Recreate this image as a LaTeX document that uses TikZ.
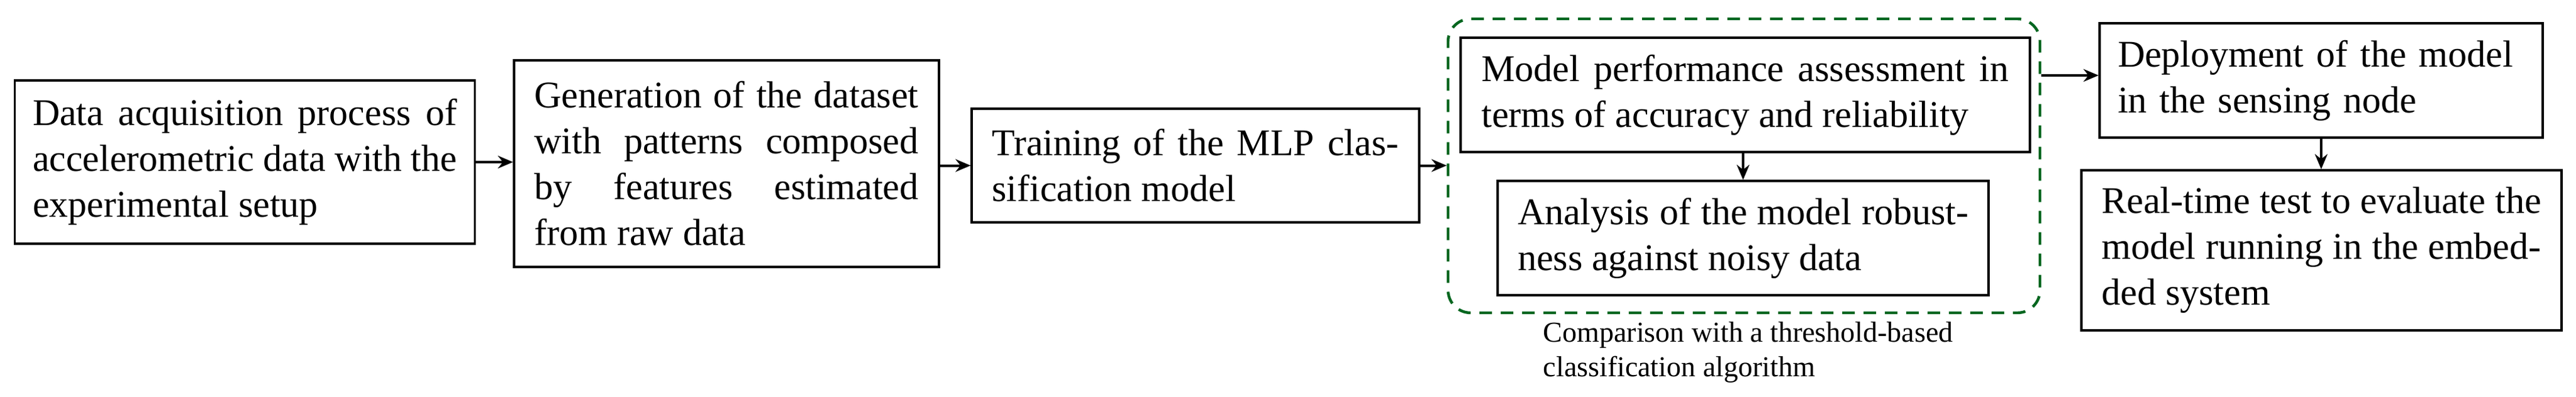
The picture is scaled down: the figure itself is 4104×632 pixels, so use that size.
\documentclass[tikz,border=0pt]{standalone}
\usepackage{fontspec}
\setmainfont{Liberation Serif}
\usetikzlibrary{arrows.meta}
\begin{document}
\begin{tikzpicture}[x=0.25pt,y=-0.25pt,
  box/.style={draw,line width=0.8pt,inner sep=0pt,font=\fontsize{15}{18.25}\selectfont},
  arr/.style={line width=1pt,-{Stealth[length=6pt,width=5pt]}},
  grpst/.style={draw=black!80!blue!60!green,line width=1.1pt,dash pattern=on 5pt off 3.5pt,rounded corners=9pt}]
\useasboundingbox (0,0) rectangle (4104,632);
\node[box,minimum width=183.25pt,minimum height=65pt,text width=169pt,align=justify] (b1) at (390,258)
 {Data acquisition process of accelerometric data with the experimental setup};
\node[box,minimum width=169.25pt,minimum height=82.25pt,text width=153pt,align=justify] (b2) at (1157.5,260.5)
 {Generation of the dataset with patterns composed by features estimated from raw data};
\node[box,minimum width=178.25pt,minimum height=45.25pt,text width=162pt,align=justify] (b3) at (1904.5,263.5)
 {Training of the MLP classification model};
\node[grpst,minimum width=235.75pt,minimum height=117pt] (grp) at (2778.5,264) {};
\node[box,minimum width=226.75pt,minimum height=45.5pt,text width=210pt,align=justify] (b4) at (2780.5,151)
 {Model performance assessment in terms of accuracy and reliability};
\node[box,minimum width=195.5pt,minimum height=45.5pt,text width=179.5pt,align=justify] (b5) at (2777,379)
 {Analysis of the model robustness against noisy data};
\node[box,minimum width=176.5pt,minimum height=45.5pt,text width=162pt,align=left] (b6) at (3698,128)
 {Deployment of the model in the sensing node};
\node[box,minimum width=191.25pt,minimum height=63.75pt,text width=175pt,align=justify] (b7) at (3698.5,398.5)
 {Real-time test to evaluate the model running in the embedded system};
\node[anchor=north west,inner sep=0pt,align=left,font=\fontsize{11.5}{13.75}\selectfont] (cap) at (2458,512)
 {Comparison with a threshold-based\\classification algorithm};
\draw[arr] (b1.east) -- (b1.east -| b2.west);
\draw[arr] (b2.east |- b3.east) -- (b3.west);
\draw[arr] (b3.east) -- (b3.east -| grp.west);
\draw[arr] (b4.south -| b5.north) -- (b5.north);
\draw[arr] (grp.east |- 0,120) -- (b6.west |- 0,120);
\draw[arr] (b6.south) -- (b7.north -| b6.south);
\end{tikzpicture}
\end{document}
